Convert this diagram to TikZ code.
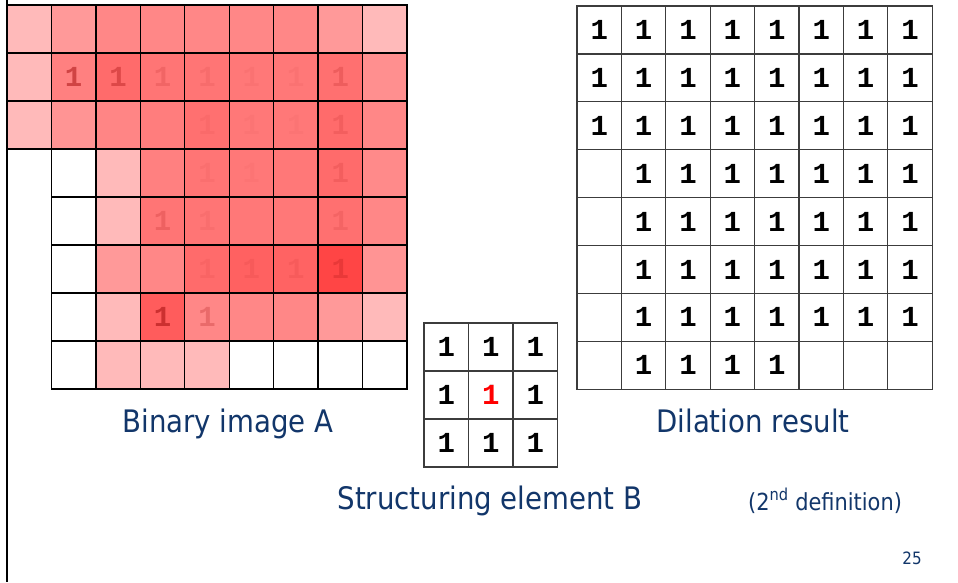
\documentclass[tikz,border=0pt]{standalone}
\usepackage{fontspec}
\setmainfont{DejaVu Sans}[FakeStretch=0.89]
\newfontfamily\digitfont{Liberation Mono}
\definecolor{navy}{RGB}{18,54,106}
\definecolor{digitred}{RGB}{170,20,20}
\definecolor{gridgrey}{RGB}{60,60,60}
\begin{document}
\begin{tikzpicture}[x=1pt,y=-1pt,
  cellA/.style={draw=black, line width=1.3pt, minimum width=44.44pt,
    minimum height=48pt, inner sep=0pt, outer sep=0pt, anchor=north west},
  cellR/.style={draw=gridgrey, line width=1.2pt, fill=white, minimum width=44.4pt,
    minimum height=47.9pt, inner sep=0pt, outer sep=0pt, anchor=north west},
  cellB/.style={draw=gridgrey, line width=1.2pt, fill=white, minimum width=44.5pt,
    minimum height=48pt, inner sep=0pt, outer sep=0pt, anchor=north west},
  bit/.style={font=\digitfont\bfseries\fontsize{29}{29}\selectfont, inner sep=0pt},
  label/.style={text=navy, anchor=base, inner sep=0pt},
  big/.style={label, font=\fontsize{31}{31}\selectfont}]
\useasboundingbox (0,0) rectangle (958,582);
\fill[white] (0,0) rectangle (958,582);

% slide edge
\coordinate (edgeTop) at (7,0);
\coordinate (edgeBot) at (7,582);
\draw[line width=2.6pt] (edgeTop) -- (edgeBot);

% binary image A with the dilated area shaded (red!N; -1 = no cell)
\foreach \row [count=\r from 0] in {
  {27,40,47,47,47,47,47,40,27},
  {27,50,58,54,54,53,53,56,44},
  {27,42,48,51,56,53,53,58,47},
  {-1,0,27,50,54,53,53,58,46},
  {-1,0,27,54,54,53,53,56,47},
  {-1,0,40,47,58,62,61,73,42},
  {-1,0,27,64,47,47,47,40,27},
  {-1,0,27,27,27,0,0,0,0}}
{
  \foreach \n [count=\c from 0] in \row {
    \ifnum\n>-1
      \node[cellA, fill=red!\n] (A-\r-\c) at ({7+44.44*\c},{5+48*\r}) {};
    \fi
  }
}
% pixels of A, shown with fading strength
\foreach \r/\c/\o in {1/1/.55, 1/2/.4, 1/3/.16, 1/4/.09, 1/5/.05, 1/6/.05, 1/7/.2,
  2/4/.06, 2/5/.04, 2/6/.04, 2/7/.14,
  3/4/.06, 3/5/.03, 3/7/.14,
  4/3/.2, 4/4/.07, 4/7/.12,
  5/4/.07, 5/5/.09, 5/6/.09, 5/7/.25,
  6/3/.6, 6/4/.25}
  \node[bit, text=digitred, text opacity=\o] (dA-\r-\c) at (A-\r-\c) {1};

% structuring element B
\foreach \r in {0,1,2}
  \foreach \c in {0,1,2} {
    \node[cellB] (B-\r-\c) at ({424+44.5*\c},{323+48*\r}) {};
    \node[bit] (dB-\r-\c) at (B-\r-\c) {1};
  }
\node[bit, text=red, fill=white] (dB-1-1) at (B-1-1) {1};

% dilation result
\foreach \row [count=\r from 0] in {
  {1,1,1,1,1,1,1,1},
  {1,1,1,1,1,1,1,1},
  {1,1,1,1,1,1,1,1},
  {0,1,1,1,1,1,1,1},
  {0,1,1,1,1,1,1,1},
  {0,1,1,1,1,1,1,1},
  {0,1,1,1,1,1,1,1},
  {0,1,1,1,1,0,0,0}}
{
  \foreach \v [count=\c from 0] in \row {
    \node[cellR] (R-\r-\c) at ({577+44.4*\c},{6+47.9*\r}) {};
    \ifnum\v=1
      \node[bit] (dR-\r-\c) at (R-\r-\c) {1};
    \fi
  }
}

% captions
\node[big] (capA) at (228,432) {Binary image A};
\node[big] (capR) at (753,432) {Dilation result};
\node[big] (capB) at (490,509) {Structuring element B};
\node[label, font=\fontsize{23.5}{23.5}\selectfont] (defn) at (825,510)
  {(2\textsuperscript{nd} definition)};
\node[label, font=\fontsize{17}{17}\selectfont] (pageno) at (912,564) {25};
\end{tikzpicture}
\end{document}
